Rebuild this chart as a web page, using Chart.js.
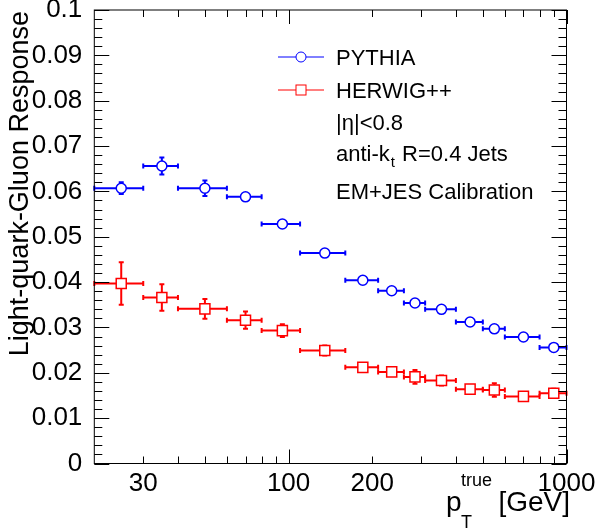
<!DOCTYPE html>
<html>
<head>
<meta charset="utf-8">
<script src="https://cdn.jsdelivr.net/npm/chart.js@4.4.1/dist/chart.umd.min.js"></script>
<style>
  html, body { margin: 0; padding: 0; background: #fff; }
  #wrap { width: 598px; height: 531px; }
</style>
</head>
<body>
<div id="wrap"><canvas id="resp"></canvas></div>
<script>
// jet pT bins [GeV] and response values
var ptLow    = [20, 30, 40, 60, 80, 110, 160, 210, 260, 310, 400, 500, 600, 800];
var ptHigh   = [30, 40, 60, 80, 110, 160, 210, 260, 310, 400, 500, 600, 800, 1000];
var ptCenter = [25, 35, 50, 70, 95, 135, 185, 235, 285, 355, 450, 550, 700, 900];

var pythia    = [0.0607, 0.0656, 0.0607, 0.0588, 0.0528, 0.0464, 0.0404, 0.0381, 0.0354, 0.0340, 0.0312, 0.0297, 0.0279, 0.0256];
var pythiaErr = [0.0013, 0.0019, 0.0017, 0.0008, 0.0008, 0.0008, 0.0007, 0.0007, 0.0007, 0.0007, 0.0007, 0.0007, 0.0007, 0.0007];
var herwig    = [0.0397, 0.0366, 0.0341, 0.0316, 0.0293, 0.0249, 0.0212, 0.0202, 0.0191, 0.0183, 0.0164, 0.0162, 0.0148, 0.0155];
var herwigErr = [0.0047, 0.0029, 0.0022, 0.0019, 0.0014, 0.0011, 0.0009, 0.0009, 0.0015, 0.0011, 0.0009, 0.0015, 0.0009, 0.0010];

var xTickLabels = [30, 100, 200, 1000];
var xMinor = [30, 40, 50, 60, 70, 80, 90, 200, 300, 400, 500, 600, 700, 800, 900];
var xMajor = [100, 1000];

var FONT = "'Liberation Sans', Arial, Helvetica, sans-serif";
var BLUE = "#0000ff";
var RED = "#ff0000";

function pts(ys) {
  return ptCenter.map(function (x, i) { return { x: x, y: ys[i] }; });
}

// horizontal bin bars + vertical stat errors, under the markers
var errorBars = {
  id: 'errorBars',
  beforeDatasetsDraw: function (chart) {
    var ctx = chart.ctx, xs = chart.scales.x, ys = chart.scales.y;
    var sets = [[pythia, pythiaErr, BLUE], [herwig, herwigErr, RED]];
    ctx.save();
    ctx.lineWidth = 2;
    sets.forEach(function (s) {
      ctx.strokeStyle = s[2];
      for (var i = 0; i < ptCenter.length; i++) {
        var x0 = xs.getPixelForValue(ptLow[i]);
        var x1 = xs.getPixelForValue(ptHigh[i]);
        var y = ys.getPixelForValue(s[0][i]);
        var xc = xs.getPixelForValue(ptCenter[i]);
        var yt = ys.getPixelForValue(s[0][i] + s[1][i]);
        var yb = ys.getPixelForValue(s[0][i] - s[1][i]);
        ctx.beginPath();
        ctx.moveTo(x0, y); ctx.lineTo(x1, y);
        ctx.moveTo(x0, y - 2.5); ctx.lineTo(x0, y + 2.5);
        ctx.moveTo(x1, y - 2.5); ctx.lineTo(x1, y + 2.5);
        ctx.moveTo(xc, yt); ctx.lineTo(xc, yb);
        ctx.moveTo(xc - 2.5, yt); ctx.lineTo(xc + 2.5, yt);
        ctx.moveTo(xc - 2.5, yb); ctx.lineTo(xc + 2.5, yb);
        ctx.stroke();
      }
    });
    ctx.restore();
  }
};

// ROOT-style frame with inward ticks, titles and legend
var frame = {
  id: 'frame',
  afterDraw: function (chart) {
    var ctx = chart.ctx, a = chart.chartArea, xs = chart.scales.x, ys = chart.scales.y;
    ctx.save();
    ctx.strokeStyle = '#000';
    ctx.lineWidth = 1;
    ctx.strokeRect(a.left, a.top, a.right - a.left, a.bottom - a.top);
    ctx.beginPath();
    for (var k = 0; k <= 50; k++) {
      var v = k * 0.002;
      var py = Math.round(ys.getPixelForValue(v)) + 0.5;
      var len = (k % 5 === 0) ? 15 : 8;
      ctx.moveTo(a.left, py); ctx.lineTo(a.left + len, py);
      ctx.moveTo(a.right, py); ctx.lineTo(a.right - len, py);
    }
    xMinor.concat(xMajor).forEach(function (v) {
      var px = Math.round(xs.getPixelForValue(v)) + 0.5;
      var len = xMajor.indexOf(v) >= 0 ? 14 : 7;
      ctx.moveTo(px, a.bottom); ctx.lineTo(px, a.bottom - len);
      ctx.moveTo(px, a.top); ctx.lineTo(px, a.top + len);
    });
    ctx.stroke();

    // y title
    ctx.fillStyle = '#000';
    ctx.save();
    ctx.translate(28, 11);
    ctx.rotate(-Math.PI / 2);
    ctx.font = '27px ' + FONT;
    ctx.textAlign = 'right';
    ctx.textBaseline = 'alphabetic';
    ctx.fillText('Light-quark-Gluon Response', 0, 0);
    ctx.restore();

    // x title: p_T^true [GeV], ending near the axis end
    ctx.textAlign = 'left';
    ctx.textBaseline = 'alphabetic';
    ctx.font = '28px ' + FONT;
    ctx.fillText('p', 446, 511);
    ctx.font = '18px ' + FONT;
    ctx.fillText('T', 461, 528);
    ctx.fillText('true', 461, 486);
    ctx.font = '28px ' + FONT;
    ctx.textAlign = 'right';
    ctx.fillText('[GeV]', 570, 511);

    // legend
    var lx0 = 278, lx1 = 324, lmx = 301, tx = 336;
    ctx.lineWidth = 1;
    ctx.strokeStyle = BLUE;
    ctx.beginPath(); ctx.moveTo(lx0, 57); ctx.lineTo(lmx - 5, 57); ctx.moveTo(lmx + 5, 57); ctx.lineTo(lx1, 57); ctx.stroke();
    ctx.beginPath(); ctx.arc(lmx, 57, 5, 0, Math.PI * 2); ctx.stroke();
    ctx.strokeStyle = RED;
    ctx.beginPath(); ctx.moveTo(lx0, 90); ctx.lineTo(lmx - 5, 90); ctx.moveTo(lmx + 5, 90); ctx.lineTo(lx1, 90); ctx.stroke();
    ctx.strokeRect(lmx - 5, 85, 10, 10);

    ctx.fillStyle = '#000';
    ctx.textAlign = 'left';
    ctx.textBaseline = 'alphabetic';
    ctx.font = '22px ' + FONT;
    ctx.fillText('PYTHIA', tx, 65);
    ctx.fillText('HERWIG++', tx, 98);
    ctx.fillText('|\u03b7|<0.8', tx, 130);
    var s1 = 'anti-k';
    ctx.fillText(s1, tx, 161);
    var w1 = ctx.measureText(s1).width;
    ctx.font = '15px ' + FONT;
    ctx.fillText('t', tx + w1 + 1, 167);
    var w2 = ctx.measureText('t').width;
    ctx.font = '22px ' + FONT;
    ctx.fillText(' R=0.4 Jets', tx + w1 + w2 + 2, 161);
    ctx.fillText('EM+JES Calibration', tx, 199);
    ctx.restore();
  }
};

new Chart(document.getElementById('resp'), {
  type: 'scatter',
  data: {
    datasets: [
      {
        label: 'PYTHIA',
        data: pts(pythia),
        pointStyle: 'circle',
        pointRadius: 5,
        borderColor: BLUE,
        backgroundColor: '#fff',
        borderWidth: 1.5,
        showLine: false
      },
      {
        label: 'HERWIG++',
        data: pts(herwig),
        pointStyle: 'rect',
        pointRadius: 7.1,
        borderColor: RED,
        backgroundColor: '#fff',
        borderWidth: 1.5,
        showLine: false
      }
    ]
  },
  options: {
    responsive: true,
    maintainAspectRatio: false,
    animation: false,
    events: [],
    layout: { padding: { left: 0, right: 31.5, top: 10, bottom: 0 } },
    plugins: { legend: { display: false }, tooltip: { enabled: false } },
    scales: {
      x: {
        type: 'logarithmic',
        min: 20,
        max: 1000,
        grid: { display: false },
        border: { display: false },
        afterBuildTicks: function (s) {
          s.ticks = xTickLabels.map(function (v) { return { value: v }; });
        },
        afterFit: function (s) {
          s.height = 67.5;
          s.paddingLeft = 0; s.paddingRight = 0;
        },
        ticks: {
          autoSkip: false,
          maxRotation: 0,
          padding: -3,
          color: '#000',
          font: { family: FONT, size: 26 },
          callback: function (v) { return String(v); }
        }
      },
      y: {
        min: 0,
        max: 0.1,
        grid: { display: false },
        border: { display: false },
        afterFit: function (s) {
          s.width = 94.3;
          s.paddingTop = 0; s.paddingBottom = 0;
        },
        ticks: {
          stepSize: 0.01,
          autoSkip: false,
          padding: 4,
          color: '#000',
          font: { family: FONT, size: 26 },
          callback: function (v) { return v === 0 ? '0' : String(+v.toFixed(2)); }
        }
      }
    }
  },
  plugins: [errorBars, frame]
});
</script>
</body>
</html>
